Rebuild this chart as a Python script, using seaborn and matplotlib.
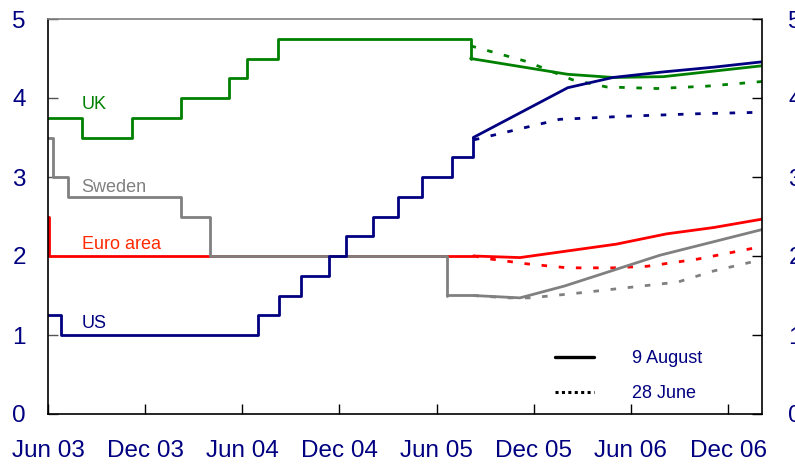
import matplotlib
matplotlib.use("Agg")
import matplotlib.pyplot as plt
from matplotlib.lines import Line2D
import seaborn as sns
import pandas as pd

# ---- data (months since Jun 2003) ----
tick_months = [0, 6, 12, 18, 24, 30, 36, 42]
tick_labels = ["Jun 03", "Dec 03", "Jun 04", "Dec 04", "Jun 05", "Dec 05", "Jun 06", "Dec 06"]

# history (step series)
uk_hist_m = [0, 2.1, 5.2, 8.2, 11.2, 12.3, 14.2, 26.1]
uk_hist_v = [3.75, 3.5, 3.75, 4.0, 4.25, 4.5, 4.75, 4.5]
us_hist_m = [0, 0.78, 12.95, 14.29, 15.63, 17.36, 18.41, 20.09, 21.62, 23.08, 24.95, 26.27]
us_hist_v = [1.25, 1.0, 1.25, 1.5, 1.75, 2.0, 2.25, 2.5, 2.75, 3.0, 3.25, 3.5]
se_hist_m = [0, 0.29, 1.22, 8.2, 10.0, 24.66]
se_hist_v = [3.5, 3.0, 2.75, 2.5, 2.0, 1.5]
eu_hist_m = [0, 0.08, 26.27]
eu_hist_v = [2.5, 2.0, 2.0]

# 9 August forward curves (solid)
uk_aug_m = [26.1, 32.1, 34.9, 38.0, 41.1, 44.2]
uk_aug_v = [4.5, 4.30, 4.26, 4.27, 4.34, 4.41]
us_aug_m = [26.27, 32.1, 34.9, 38.0, 41.1, 44.2]
us_aug_v = [3.5, 4.13, 4.26, 4.33, 4.39, 4.46]
se_aug_m = [24.66, 26.27, 29.15, 31.9, 37.8, 41.1, 44.2]
se_aug_v = [1.5, 1.5, 1.47, 1.62, 2.01, 2.18, 2.34]
eu_aug_m = [26.27, 29.15, 35.1, 38.2, 41.1, 44.2]
eu_aug_v = [2.0, 1.98, 2.15, 2.28, 2.36, 2.47]

# 28 June forward curves (dotted)
uk_jun_m = [26.1, 29.6, 32.4, 34.5, 37.6, 40.7, 44.2]
uk_jun_v = [4.66, 4.46, 4.23, 4.14, 4.12, 4.15, 4.21]
us_jun_m = [26.3, 31.6, 35.8, 40.0, 44.2]
us_jun_v = [3.47, 3.73, 3.77, 3.80, 3.82]
se_jun_m = [26.27, 28.4, 29.8, 32.7, 35.8, 38.9, 41.1, 44.0]
se_jun_v = [1.5, 1.47, 1.47, 1.53, 1.60, 1.67, 1.81, 1.95]
eu_jun_m = [26.27, 27.4, 29.6, 32.1, 34.9, 37.0, 40.1, 43.6]
eu_jun_v = [2.0, 1.96, 1.90, 1.85, 1.85, 1.87, 1.96, 2.10]

series_names = ["Euro area", "Sweden", "UK", "US"]
colors = {"UK": "#008000", "Sweden": "#808080", "Euro area": "#FF0000", "US": "#000080"}
label_colors = {"UK": "#008000", "Sweden": "#808080", "Euro area": "#FF2a00", "US": "#000080"}
label_pos = {"UK": (2.05, 3.92), "Sweden": (2.05, 2.87), "Euro area": (2.1, 2.15), "US": (2.05, 1.15)}

hist = {"UK": (uk_hist_m, uk_hist_v), "US": (us_hist_m, us_hist_v),
        "Sweden": (se_hist_m, se_hist_v), "Euro area": (eu_hist_m, eu_hist_v)}
aug = {"UK": (uk_aug_m, uk_aug_v), "US": (us_aug_m, us_aug_v),
       "Sweden": (se_aug_m, se_aug_v), "Euro area": (eu_aug_m, eu_aug_v)}
jun = {"UK": (uk_jun_m, uk_jun_v), "US": (us_jun_m, us_jun_v),
       "Sweden": (se_jun_m, se_jun_v), "Euro area": (eu_jun_m, eu_jun_v)}

sns.set_style("white")
plt.rcParams["font.family"] = ["Liberation Sans", "DejaVu Sans"]

fig = plt.figure(figsize=(7.95, 4.67), dpi=100)
ax = fig.add_axes([48 / 795, 1 - 414 / 467, (762 - 48) / 795, (414 - 19) / 467])

navy = "#000080"
dotted = (0, (2.0, 4.2))

# dotted (28 June) first, underneath
for name in series_names:
    m, v = jun[name]
    df = pd.DataFrame({"month": m, "rate": v})
    sns.lineplot(data=df, x="month", y="rate", ax=ax, color=colors[name],
                 lw=2.0, linestyle=dotted, estimator=None, sort=False)

for name in series_names:
    m, v = hist[name]
    df = pd.DataFrame({"month": m, "rate": v})
    sns.lineplot(data=df, x="month", y="rate", ax=ax, color=colors[name],
                 lw=2.0, drawstyle="steps-post", estimator=None, sort=False)
    m, v = aug[name]
    df = pd.DataFrame({"month": m, "rate": v})
    sns.lineplot(data=df, x="month", y="rate", ax=ax, color=colors[name],
                 lw=2.0, estimator=None, sort=False)

for name in series_names:
    x, y = label_pos[name]
    ax.text(x, y, name, color=label_colors[name], fontsize=13, va="center", ha="left")

ax.set_xlim(0, 44.1)
ax.set_ylim(0, 5)
ax.set_xlabel("")
ax.set_ylabel("")
ax.set_xticks(tick_months)
ax.set_xticklabels(tick_labels)
ax.set_yticks([0, 1, 2, 3, 4, 5])
ax.set_yticklabels(["0", "1", "2", "3", "4", "5"])

ax.tick_params(axis="x", direction="in", length=7, width=1, color="black",
               labelsize=17.5, labelcolor=navy, pad=19, bottom=True)
ax.tick_params(axis="y", direction="in", length=7, width=1, color="#555555",
               labelsize=17.5, labelcolor=navy, pad=16, left=True)

for side in ["left", "bottom", "right"]:
    ax.spines[side].set_color("black")
    ax.spines[side].set_linewidth(1.2)
ax.spines["top"].set_color("#808080")
ax.spines["top"].set_linewidth(1.2)

ax2 = ax.twinx()
ax2.set_ylim(0, 5)
ax2.set_yticks([0, 1, 2, 3, 4, 5])
ax2.set_yticklabels(["0", "1", "2", "3", "4", "5"])
ax2.tick_params(axis="y", direction="in", length=7, width=1, color="black",
                labelsize=17.5, labelcolor=navy, pad=19, right=True)
for s in ax2.spines.values():
    s.set_visible(False)
ax2.grid(False)
ax.grid(False)

handles = [Line2D([], [], color="black", lw=2.4),
           Line2D([], [], color="black", lw=2.2, linestyle=(0, (1.0, 1.1)))]
leg = ax.legend(handles, ["9 August", "28 June"], loc="upper left",
                bbox_to_anchor=((555 - 48) / 714, (414 - 350) / 395),
                frameon=False, fontsize=13, handlelength=2.16, handletextpad=2.1,
                labelspacing=1.0, borderpad=0, borderaxespad=0)
for t in leg.get_texts():
    t.set_color(navy)

fig.savefig("out.png", dpi=100)
